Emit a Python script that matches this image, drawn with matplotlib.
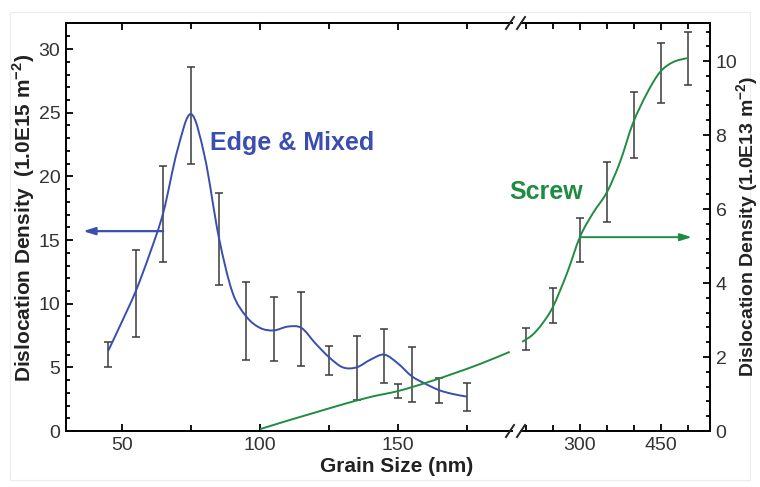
import numpy as np
import matplotlib
matplotlib.use("Agg")
import matplotlib.pyplot as plt
from matplotlib.lines import Line2D
from matplotlib.patches import Rectangle, PathPatch
from matplotlib.path import Path

plt.rcParams['font.family'] = ['Liberation Sans', 'DejaVu Sans']
plt.rcParams['mathtext.fontset'] = 'custom'
plt.rcParams['mathtext.rm'] = 'Liberation Sans'
plt.rcParams['mathtext.bf'] = 'Liberation Sans:bold'

BLUE = '#3a4db0'
GREEN = '#1f8c42'
BAR = '#3a3a3a'

# edge & mixed dislocations (left axis, 1.0E15 m^-2)
edge_x = [45, 55, 65, 75, 85, 95, 105, 115, 125, 135, 145, 155, 165, 175]
edge_y = [6.0, 10.8, 17.05, 24.8, 15.1, 8.65, 8.0, 8.0, 5.55, 4.95, 5.9, 4.45, 3.2, 2.7]
edge_err = [1.0, 3.4, 3.75, 3.8, 3.6, 3.05, 2.5, 2.9, 1.15, 2.55, 2.1, 2.15, 1.0, 1.1]

# fitted curve through the edge points
edge_fit_x = [45, 50, 55, 60, 65, 70, 75, 80, 85, 90, 95, 100,
              105, 110, 115, 120, 125, 130, 135, 140, 145, 150, 155, 160, 165, 170, 175]
edge_fit_y = [6.3, 8.6, 11.0, 13.9, 17.2, 22.0, 24.9, 21.5, 15.3,
              10.9, 9.0, 8.1, 7.9, 8.2, 8.1, 6.9, 5.8, 5.0, 5.0, 5.6, 6.0, 5.3, 4.3, 3.7,
              3.2, 2.9, 2.7]

# screw dislocations (right axis, 1.0E13 m^-2)
screw_x = [150, 200, 250, 300, 350, 400, 450, 500]
screw_y = [1.08, 2.48, 3.39, 5.17, 6.46, 8.27, 9.68, 10.07]
screw_err = [0.2, 0.3, 0.47, 0.6, 0.81, 0.89, 0.82, 0.72]

screw_fit_x1 = [100, 110, 120, 130, 140, 150, 160, 170, 180, 190.5]
screw_fit_y1 = [0.05, 0.28, 0.5, 0.72, 0.92, 1.08, 1.3, 1.55, 1.82, 2.14]
screw_fit_x2 = [193, 212, 230, 250, 276, 300, 324, 350, 374, 398, 424, 448, 472, 498]
screw_fit_y2 = [2.41, 2.6, 2.9, 3.36, 4.27, 5.25, 5.89, 6.46, 7.27, 8.32, 9.13, 9.7,
                9.97, 10.08]

W, H = 760, 487
fig = plt.figure(figsize=(7.6, 4.87), dpi=100)


def fx(px):
    return px / W


def fy(py):
    return 1 - py / H


def smooth_curve(ax, xs, ys, **kw):
    # Catmull-Rom curve through the read points, drawn as bezier segments
    pts = np.column_stack([xs, ys]).astype(float)
    verts = [pts[0]]
    codes = [Path.MOVETO]
    n = len(pts)
    for i in range(n - 1):
        p0 = pts[i - 1] if i > 0 else pts[i]
        p1 = pts[i]
        p2 = pts[i + 1]
        p3 = pts[i + 2] if i + 2 < n else pts[i + 1]
        verts += [p1 + (p2 - p0) / 6, p2 - (p3 - p1) / 6, p2]
        codes += [Path.CURVE4] * 3
    ax.add_patch(PathPatch(Path(verts, codes), fill=False, **kw))


bottom, top = fy(431), fy(23)
ax1 = fig.add_axes([fx(66), bottom, fx(512) - fx(66), top - bottom])
ax2 = fig.add_axes([fx(521), bottom, fx(710) - fx(521), top - bottom])
ax1g = ax1.twinx()

ax1.set_xlim(29.7, 191.3)
ax2.set_xlim(190.7, 540.7)
ax1.set_ylim(0, 32.05)
ax1g.set_ylim(0, 11.03)
ax2.set_ylim(0, 11.03)
ax1g.axis('off')

for ax in (ax1, ax2):
    for s in ax.spines.values():
        s.set_linewidth(1.4)
ax1.spines['right'].set_visible(False)
ax2.spines['left'].set_visible(False)

ax1.set_xticks([50, 100, 150])
ax1.set_xticks([75, 125, 175], minor=True)
ax1.set_yticks(range(0, 31, 5))
ax1.set_yticks(range(0, 32), minor=True)
ax2.set_xticks([300, 450])
ax2.set_xticks([200, 250, 350, 400, 500], minor=True)
ax2.set_yticks(range(0, 11, 2))
ax2.set_yticks(np.arange(0, 11.0, 0.4), minor=True)

ax1.tick_params(axis='both', which='both', direction='in', top=True, right=False,
                labelsize=14, width=1.3, pad=4)
ax1.tick_params(axis='both', which='major', length=5)
ax1.tick_params(axis='x', which='minor', length=4)
ax1.tick_params(axis='y', which='minor', length=3)
ax2.tick_params(axis='both', which='both', direction='in', top=True, left=False,
                right=True, labelleft=False, labelright=True, labelsize=14, width=1.3, pad=4)
ax2.tick_params(axis='both', which='major', length=5)
ax2.tick_params(axis='x', which='minor', length=4)
ax2.tick_params(axis='y', which='minor', length=3)
for lab in ax1.get_xticklabels() + ax1.get_yticklabels() + ax2.get_xticklabels() + ax2.get_yticklabels():
    lab.set_color('#333333')

# edge & mixed
smooth_curve(ax1, edge_fit_x, edge_fit_y, edgecolor=BLUE, lw=1.4, zorder=3)
ax1.errorbar(edge_x, edge_y, yerr=edge_err, fmt='none', ecolor=BAR, elinewidth=1.1,
             capsize=2.8, capthick=1.1, zorder=2)

# screw
smooth_curve(ax1g, screw_fit_x1, screw_fit_y1, edgecolor=GREEN, lw=1.4, zorder=3)
ax1g.errorbar(screw_x[:1], screw_y[:1], yerr=screw_err[:1], fmt='none', ecolor=BAR,
              elinewidth=1.1, capsize=2.8, capthick=1.1, zorder=2)
smooth_curve(ax2, screw_fit_x2, screw_fit_y2, edgecolor=GREEN, lw=1.4, zorder=3)
ax2.errorbar(screw_x[1:], screw_y[1:], yerr=screw_err[1:], fmt='none', ecolor=BAR,
             elinewidth=1.1, capsize=2.8, capthick=1.1, zorder=2)

# annotations
ax1.text(81.9, 22.6, 'Edge & Mixed', color=BLUE, fontsize=18, fontweight='bold',
         ha='left', va='center')
ax2.text(305.5, 6.46, 'Screw', color=GREEN, fontsize=18, fontweight='bold',
         ha='right', va='center')
ax1.annotate('', xy=(35.9, 15.7), xytext=(64.9, 15.7),
             arrowprops=dict(arrowstyle='-|>,head_length=0.7,head_width=0.22',
                             color=BLUE, lw=1.6, shrinkA=0, shrinkB=0))
ax2.annotate('', xy=(507, 5.24), xytext=(300, 5.24),
             arrowprops=dict(arrowstyle='-|>,head_length=0.7,head_width=0.22',
                             color=GREEN, lw=1.4, shrinkA=0, shrinkB=0))

# axis break marks
for ybase in (23, 431):
    for xc in (510, 521):
        fig.add_artist(Line2D([fx(xc - 4), fx(xc + 4)], [fy(ybase + 6), fy(ybase - 6)],
                              color='#222222', lw=1.4))

# labels
fig.text(fx(24), fy(218), r'Dislocation Density  (1.0E15 m$^{\mathbf{-2}}$)',
         rotation=90, ha='center', va='center', fontsize=15, fontweight='bold', color='#222222')
fig.text(fx(747.5), fy(226), r'Dislocation Density (1.0E13 m$^{\mathbf{-2}}$)',
         rotation=90, ha='center', va='center', fontsize=14, fontweight='bold', color='#222222')
fig.text(fx(397), fy(467), 'Grain Size (nm)', ha='center', va='center', fontsize=15,
         fontweight='bold', color='#222222')

fig.add_artist(Rectangle((fx(10), fy(480)), fx(750) - fx(10), fy(12) - fy(480),
                         fill=False, edgecolor='#ececec', lw=0.8))

fig.savefig('out.png', dpi=100)
